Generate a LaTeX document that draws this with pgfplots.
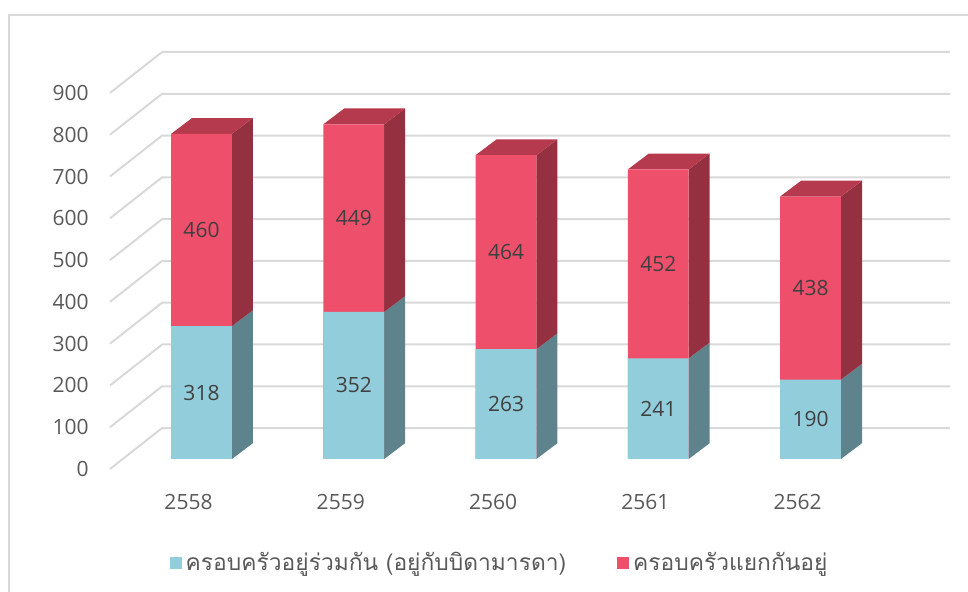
\documentclass[border=0pt]{standalone}
\usepackage{fontspec}
\setmainfont{Open Sans}
\newfontfamily\thaifont[Script=Thai]{Loma}
\usepackage{pgfplots}
\usepackage{pgfplotstable}
\pgfplotsset{compat=1.18}
\definecolor{blueF}{HTML}{92CDDC}
\definecolor{blueS}{HTML}{5E838C}
\definecolor{redF}{HTML}{EE4F6A}
\definecolor{redS}{HTML}{943040}
\definecolor{redT}{HTML}{B53A4E}
\definecolor{gridc}{HTML}{D9D9D9}
\definecolor{txt}{HTML}{595959}
\definecolor{lbl}{HTML}{404040}
\pgfplotstableread{
x a b
0 318 460
1 352 449
2 263 464
3 241 452
4 190 438
}\data
\begin{document}
\begin{tikzpicture}
\begin{axis}[
  at={(0,0)}, anchor=south west, scale only axis,
  width=420pt, height=208.5pt,
  xmin=-0.601, xmax=4.916, ymin=-24, ymax=974,
  clip=false,
  /pgf/number format/assume math mode=true,
  axis line style={draw=none}, major tick length=0pt,
  xtick={0,1,2,3,4}, xticklabels={2558,2559,2560,2561,2562},
  ytick={-24,76,176,276,376,476,576,676,776,876},
  yticklabels={0,100,200,300,400,500,600,700,800,900},
  tick label style={font=\fontsize{10.5}{12}\selectfont, text=txt},
  xticklabel style={anchor=center, inner sep=0pt, xshift=-6.5pt, yshift=-16.5pt},
  yticklabel style={anchor=east, inner sep=0pt, xshift=-10.5pt},
  legend image code/.code={\fill[#1,draw=none] (0pt,-3pt) rectangle (6pt,3pt);},
  legend style={at={(rel axis cs:0.465,-0.2254)}, anchor=center, draw=none, fill=none,
    font=\thaifont\fontsize{11.4}{13}\selectfont, text=txt,
    /tikz/every even column/.append style={column sep=23.5pt}},
  legend columns=2, legend cell align=left,
]
\addlegendimage{fill=blueF, draw=none}
\addlegendentry{ครอบครัวอยู่ร่วมกัน (อยู่กับบิดามารดา)}
\addlegendimage{fill=redF, draw=none}
\addlegendentry{ครอบครัวแยกกันอยู่}
% gridlines (front wall slant + back wall)
\pgfplotsforeachungrouped \v in {0,100,...,900}{%
  \pgfmathsetmacro\yf{\v-24}%
  \pgfmathsetmacro\yb{\v+74}%
  \edef\tmp{\noexpand\addplot[gridc, line width=1pt, forget plot] coordinates {(-0.601,\yf) (-0.259,\yb) (4.916,\yb)};}%
  \tmp
}
% side and top faces
\pgfplotsforeachungrouped \i in {0,1,2,3,4}{%
  \pgfplotstablegetelem{\i}{a}\of\data \let\va\pgfplotsretval
  \pgfplotstablegetelem{\i}{b}\of\data \let\vb\pgfplotsretval
  \pgfmathsetmacro\xa{\i+0.2}%
  \pgfmathsetmacro\xb{\i+0.338}%
  \pgfmathsetmacro\xc{\i-0.062}%
  \pgfmathsetmacro\xd{\i-0.2}%
  \pgfmathsetmacro\ya{\va+38}%
  \pgfmathsetmacro\yt{\va+\vb}%
  \pgfmathsetmacro\ytb{\va+\vb+38}%
  \edef\tmp{%
   \noexpand\addplot[fill=blueS, draw=none, forget plot] coordinates {(\xa,0) (\xb,38) (\xb,\ya) (\xa,\va)};
   \noexpand\addplot[fill=redS, draw=none, forget plot] coordinates {(\xa,\va) (\xb,\ya) (\xb,\ytb) (\xa,\yt)};
   \noexpand\addplot[fill=redT, draw=none, forget plot] coordinates {(\xd,\yt) (\xa,\yt) (\xb,\ytb) (\xc,\ytb)};
  }\tmp
}
% front faces
\addplot[ybar, bar width=0.4, bar shift=0pt, fill=redF, draw=none, forget plot]
  table[x=x, y expr=\thisrow{a}+\thisrow{b}] {\data};
\addplot[ybar, bar width=0.4, bar shift=0pt, fill=blueF, draw=none, forget plot]
  table[x=x, y=a] {\data};
% data labels
\addplot[draw=none, mark=none, forget plot, nodes near coords, point meta=explicit,
  every node near coord/.append style={anchor=center, font=\fontsize{10.5}{12}\selectfont, text=lbl}]
  table[x=x, y expr=\thisrow{a}/2, meta=a] {\data};
\addplot[draw=none, mark=none, forget plot, nodes near coords, point meta=explicit,
  every node near coord/.append style={anchor=center, font=\fontsize{10.5}{12}\selectfont, text=lbl}]
  table[x=x, y expr=\thisrow{a}+\thisrow{b}/2, meta=b] {\data};
\end{axis}
\pgfresetboundingbox
\useasboundingbox (-55pt,-61pt) rectangle (429pt,234.5pt);
\draw[gridc, line width=1pt] (-50.5pt,-62pt) -- (-50.5pt,227pt) -- (430pt,227pt);
\end{tikzpicture}
\end{document}
